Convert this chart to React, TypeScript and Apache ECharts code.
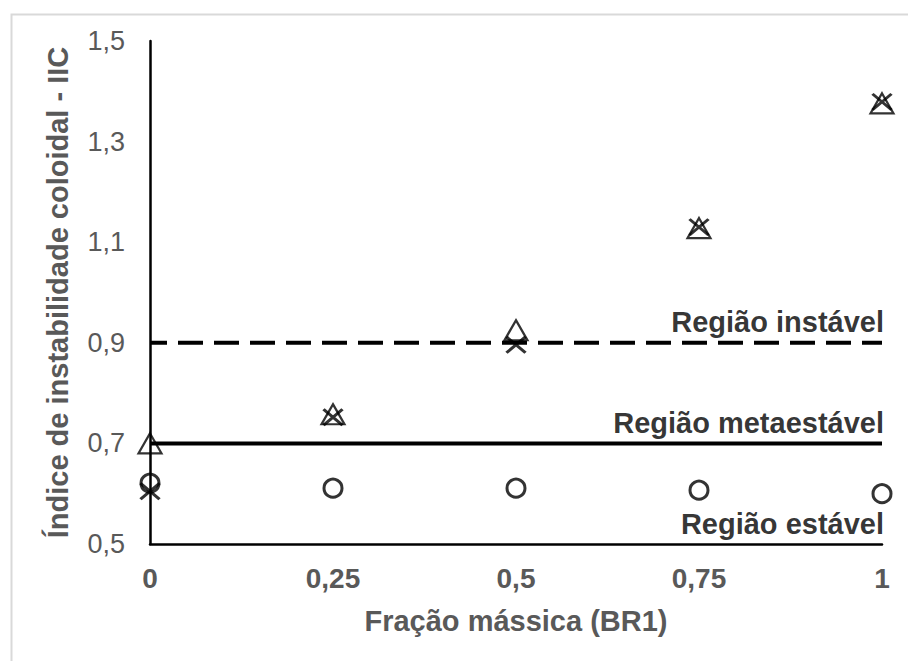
import React, { useEffect, useRef } from "react";
import * as echarts from "echarts";

const xTicks = [0, 0.25, 0.5, 0.75, 1];
const xTickLabels = ["0", "0,25", "0,5", "0,75", "1"];
const fractions = [0, 0.25, 0.5, 0.75, 1];
const triangleValues = [0.70, 0.758, 0.925, 1.128, 1.376];
const crossValues = [0.605, 0.752, 0.896, 1.13, 1.379];
const circleValues = [0.621, 0.611, 0.611, 0.607, 0.6];
const unstableLimit = 0.9;
const metastableLimit = 0.7;
const regionLabels = ["Região instável", "Região metaestável", "Região estável"];
const regionLevels = [0.9, 0.7, 0.5];

const FONT = "'Liberation Sans', Arial, sans-serif";

export default function App() {
  const ref = useRef<HTMLDivElement>(null);
  useEffect(() => {
    if (!ref.current) return;
    const chart = echarts.init(ref.current, null, { renderer: "svg" });
    const pts = (vals: number[]) => fractions.map((f, i) => [f, vals[i]]);
    const option: any = {
      animation: false,
      backgroundColor: "#ffffff",
      textStyle: { fontFamily: FONT },
      grid: { left: 150, right: 26, top: 41, bottom: 117, containLabel: false },
      graphic: [
        {
          type: "rect",
          left: 9,
          top: 12,
          shape: { width: 940, height: 720 },
          style: { fill: "none", stroke: "#d9d9d9", lineWidth: 2 },
          silent: true,
          z: -1,
        },
      ],
      xAxis: {
        type: "value",
        min: 0,
        max: 1,
        interval: 0.25,
        name: "Fração mássica (BR1)",
        nameLocation: "middle",
        nameGap: 62,
        nameTextStyle: { color: "#595959", fontSize: 29, fontWeight: "bold", fontFamily: FONT },
        axisLine: { show: true, lineStyle: { color: "#000", width: 2.5 } },
        axisTick: { show: false },
        splitLine: { show: false },
        axisLabel: {
          color: "#595959",
          fontSize: 28,
          fontWeight: "bold",
          fontFamily: FONT,
          margin: 20,
          formatter: (v: number) => {
            const i = xTicks.findIndex((t) => Math.abs(t - v) < 1e-6);
            return i >= 0 ? xTickLabels[i] : "";
          },
        },
      },
      yAxis: {
        type: "value",
        min: 0.5,
        max: 1.5,
        interval: 0.2,
        name: "Índice de instabilidade coloidal - IIC",
        nameLocation: "middle",
        nameGap: 78,
        nameRotate: 90,
        nameTextStyle: { color: "#595959", fontSize: 29, fontWeight: "bold", fontFamily: FONT },
        axisLine: { show: true, onZero: false, lineStyle: { color: "#000", width: 2.5 } },
        axisTick: { show: false },
        splitLine: { show: false },
        axisLabel: {
          color: "#595959",
          fontSize: 27,
          fontFamily: FONT,
          margin: 25,
          formatter: (v: number) => v.toFixed(1).replace(".", ","),
        },
      },
      series: [
        {
          type: "line",
          data: [
            [0, unstableLimit],
            [1, unstableLimit],
          ],
          symbol: "none",
          silent: true,
          lineStyle: { color: "#000", width: 4, type: [25, 11], dashOffset: 8 },
          z: 1,
        },
        {
          type: "line",
          data: [
            [0, metastableLimit],
            [1, metastableLimit],
          ],
          symbol: "none",
          silent: true,
          lineStyle: { color: "#000", width: 4, type: "solid" },
          z: 1,
        },
        {
          type: "scatter",
          data: pts(circleValues),
          symbol: "circle",
          symbolSize: 18,
          itemStyle: { color: "none", borderColor: "#000", borderWidth: 3 },
          z: 3,
        },
        {
          type: "scatter",
          data: pts(triangleValues),
          symbol: "triangle",
          symbolSize: [23, 20],
          itemStyle: { color: "none", borderColor: "#000", borderWidth: 2.2 },
          z: 3,
        },
        {
          type: "scatter",
          data: pts(crossValues),
          symbol: "path://M0,0L20,17M20,0L0,17",
          symbolSize: [19, 16],
          itemStyle: { color: "none", borderColor: "#000", borderWidth: 3 },
          z: 4,
        },
        {
          type: "scatter",
          silent: true,
          symbolSize: 0,
          itemStyle: { color: "transparent" },
          data: regionLabels.map((name, i) => ({ value: [1, regionLevels[i]], name })),
          label: {
            show: true,
            position: [2, -6],
            align: "right",
            verticalAlign: "bottom",
            formatter: (p: any) => p.name,
            color: "#000",
            fontSize: 29,
            fontWeight: "bold",
            fontFamily: FONT,
          },
          z: 5,
        },
      ],
    };
    chart.setOption(option);
    return () => chart.dispose();
  }, []);
  return (
    <div
      ref={ref}
      style={{ position: "fixed", left: 0, top: 0, width: 908, height: 661, background: "#fff" }}
    />
  );
}
